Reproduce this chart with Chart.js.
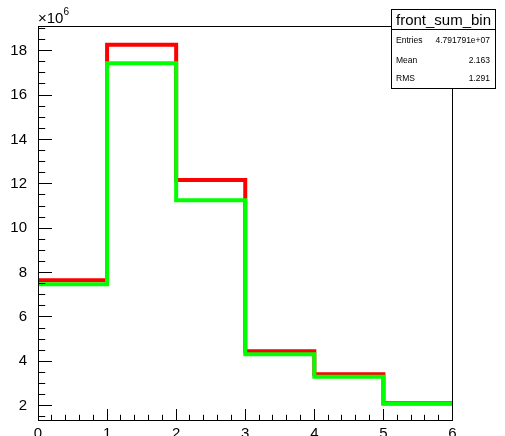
<!DOCTYPE html>
<html>
<head>
<meta charset="utf-8">
<script src="https://cdn.jsdelivr.net/npm/chart.js@4.4.1/dist/chart.umd.min.js"></script>
<style>
  html, body { margin: 0; padding: 0; background: #fff; }
</style>
</head>
<body>
<canvas id="histo" width="505" height="436"></canvas>
<script>
// bin edges and counts per bin (units of 10^6 entries)
const binEdges = [0, 1, 2, 3, 4, 5, 6];
const redCounts = [7.65, 18.27, 12.17, 4.45, 3.42, 2.11];
const greenCounts = [7.47, 17.43, 11.26, 4.32, 3.31, 2.09];

// axis ticks
const xTickValues = [0, 1, 2, 3, 4, 5, 6];
const yTickValues = [2, 4, 6, 8, 10, 12, 14, 16, 18];

// stats box
const statsTitle = "front_sum_bin";
const statsNames = ["Entries", "Mean", "RMS"];
const statsValues = ["4.791791e+07", "2.163", "1.291"];

const FONTE = "'Liberation Sans', Arial, sans-serif";

// one point per left edge plus the closing right edge
function pontosDegrau(contagens) {
    return binEdges.map((x, i) => ({ x, y: contagens[Math.min(i, contagens.length - 1)] }));
}

// root style frame with ticks drawn inside
const molduraRoot = {
    id: "molduraRoot",
    afterDatasetsDraw(chart) {
        const { ctx, chartArea: a, scales } = chart;
        const px = v => Math.floor(v) + 0.5;
        ctx.save();
        ctx.strokeStyle = "#000";
        ctx.lineWidth = 1;
        ctx.beginPath();

        // x ticks, major every 1, minor every 0.2
        for (let i = 0; i <= 30; i++) {
            const xp = px(scales.x.getPixelForValue(i * 0.2));
            const len = i % 5 === 0 ? 11.5 : 5.7;
            ctx.moveTo(xp, px(a.bottom));
            ctx.lineTo(xp, px(a.bottom) - len);
        }

        // y ticks, major every 2, minor every 0.5
        const yMin = scales.y.min, yMax = scales.y.max;
        for (let k = Math.ceil(yMin / 0.5); k * 0.5 <= yMax; k++) {
            const yp = px(scales.y.getPixelForValue(k * 0.5));
            const len = k % 4 === 0 ? 13.5 : 6.7;
            ctx.moveTo(px(a.left), yp);
            ctx.lineTo(px(a.left) + len, yp);
        }
        ctx.stroke();

        ctx.strokeRect(px(a.left), px(a.top), px(a.right) - px(a.left), px(a.bottom) - px(a.top));
        ctx.restore();
    },
    afterDraw(chart) {
        const { ctx, chartArea: a } = chart;
        ctx.save();
        ctx.fillStyle = "#000";
        ctx.textBaseline = "alphabetic";

        // exponent above the y axis
        ctx.font = "15px " + FONTE;
        ctx.textAlign = "left";
        ctx.fillText("\u00d710", a.left, 23);
        const w = ctx.measureText("\u00d710").width;
        ctx.font = "10px " + FONTE;
        ctx.fillText("6", a.left + w, 15);

        // stats box
        const bx = 391.5, by = 9.5, bw = 104, bh = 79;
        ctx.fillStyle = "#fff";
        ctx.fillRect(bx, by, bw, bh);
        ctx.strokeStyle = "#000";
        ctx.lineWidth = 1;
        ctx.strokeRect(bx, by, bw, bh);
        ctx.beginPath();
        ctx.moveTo(bx, 29.5);
        ctx.lineTo(bx + bw, 29.5);
        ctx.stroke();

        ctx.fillStyle = "#000";
        ctx.font = "15px " + FONTE;
        ctx.textAlign = "center";
        ctx.fillText(statsTitle, bx + bw / 2, 25);

        ctx.font = "8.5px " + FONTE;
        ctx.textBaseline = "middle";
        const linhasY = [40.7, 60.3, 79];
        statsNames.forEach((nome, i) => {
            ctx.textAlign = "left";
            ctx.fillText(nome, 396, linhasY[i]);
            ctx.textAlign = "right";
            ctx.fillText(statsValues[i], 490, linhasY[i]);
        });
        ctx.restore();
    },
};

const eixoComum = {
    type: "linear",
    grid: { display: false },
    border: { display: false },
};

new Chart(document.getElementById("histo").getContext("2d"), {
    type: "line",
    data: {
        datasets: [
            { label: "red", data: pontosDegrau(redCounts), borderColor: "#ff0000", borderWidth: 4, stepped: true, pointRadius: 0, fill: false, order: 2 },
            { label: "green", data: pontosDegrau(greenCounts), borderColor: "#00ff00", borderWidth: 4, stepped: true, pointRadius: 0, fill: false, order: 1 },
        ],
    },
    options: {
        responsive: false,
        devicePixelRatio: 1,
        animation: false,
        layout: { padding: { top: 26, right: 52.5, left: 0, bottom: 0 } },
        plugins: { legend: { display: false }, tooltip: { enabled: false } },
        scales: {
            x: {
                ...eixoComum,
                min: 0,
                max: 6,
                afterBuildTicks: s => { s.ticks = xTickValues.map(value => ({ value })); },
                afterFit: s => { s.height = 15.3; },
                ticks: { color: "#000", padding: -3.5, maxRotation: 0, autoSkip: false, font: { family: FONTE, size: 15 } },
            },
            y: {
                ...eixoComum,
                min: 1.324,
                max: 19.113,
                afterBuildTicks: s => { s.ticks = yTickValues.map(value => ({ value })); },
                afterFit: s => { s.width = 38; },
                ticks: { color: "#000", padding: 3, autoSkip: false, font: { family: FONTE, size: 15 } },
            },
        },
    },
    plugins: [molduraRoot],
});
</script>
</body>
</html>
